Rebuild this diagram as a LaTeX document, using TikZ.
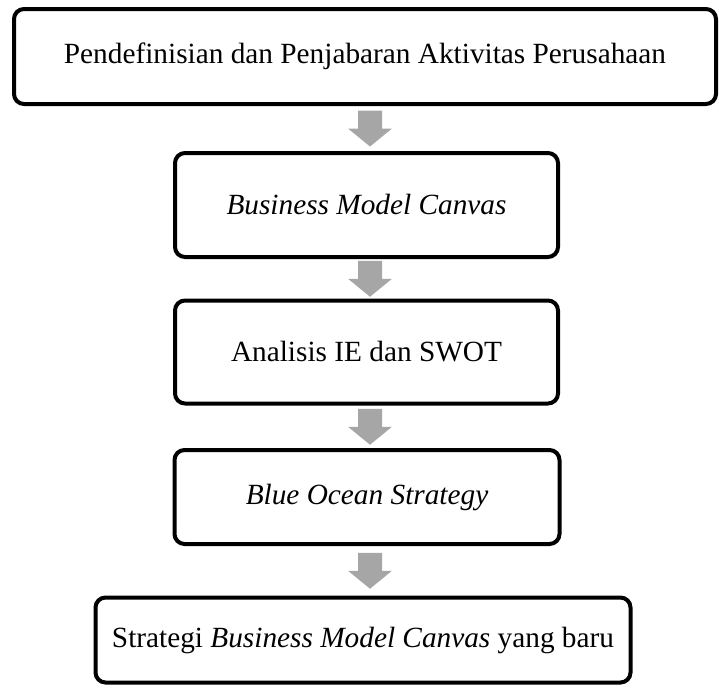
\documentclass[tikz,border=0pt]{standalone}
\usepackage{fontspec}
\setmainfont{Liberation Serif}
\usetikzlibrary{calc}
\definecolor{arrowgray}{HTML}{A6A6A6}
\tikzset{
  stagebox/.style={draw=black, line width=4pt, rounded corners=10pt,
    fill=white, align=center, inner sep=0pt,
    font=\fontsize{29.3}{35}\selectfont},
  flowarrow/.pic={
    \fill[arrowgray] (-12,-18) -- (12,-18) -- (12,0) -- (22,0) -- (0,18)
      -- (-22,0) -- (-12,0) -- cycle;
  }
}
\begin{document}
\begin{tikzpicture}[x=1pt, y=-1pt]
\useasboundingbox (0,0) rectangle (719,688);

% process stages, top to bottom
\node[stagebox, minimum width=702pt, minimum height=95pt] (b1) at (365,56.5)
  {Pendefinisian dan Penjabaran Aktivitas Perusahaan};
\node[stagebox, minimum width=383pt, minimum height=104pt] (b2) at (366.5,205)
  {\itshape Business Model Canvas};
\node[stagebox, minimum width=383pt, minimum height=103pt] (b3) at (366.5,352)
  {Analisis IE dan SWOT};
\node[stagebox, minimum width=385pt, minimum height=94pt] (b4) at (367,497)
  {\itshape Blue Ocean Strategy};
\node[stagebox, minimum width=535pt, minimum height=85pt] (b5) at (363,640)
  {Strategi \textit{Business Model Canvas} yang baru};

% block arrows between consecutive stages
\foreach \a/\b in {b1/b2, b2/b3, b3/b4, b4/b5}{
  \coordinate (m) at ($(\a.south)!0.5!(\b.north)$);
  \pic at (370,0 |- m) {flowarrow};
}
\end{tikzpicture}
\end{document}
